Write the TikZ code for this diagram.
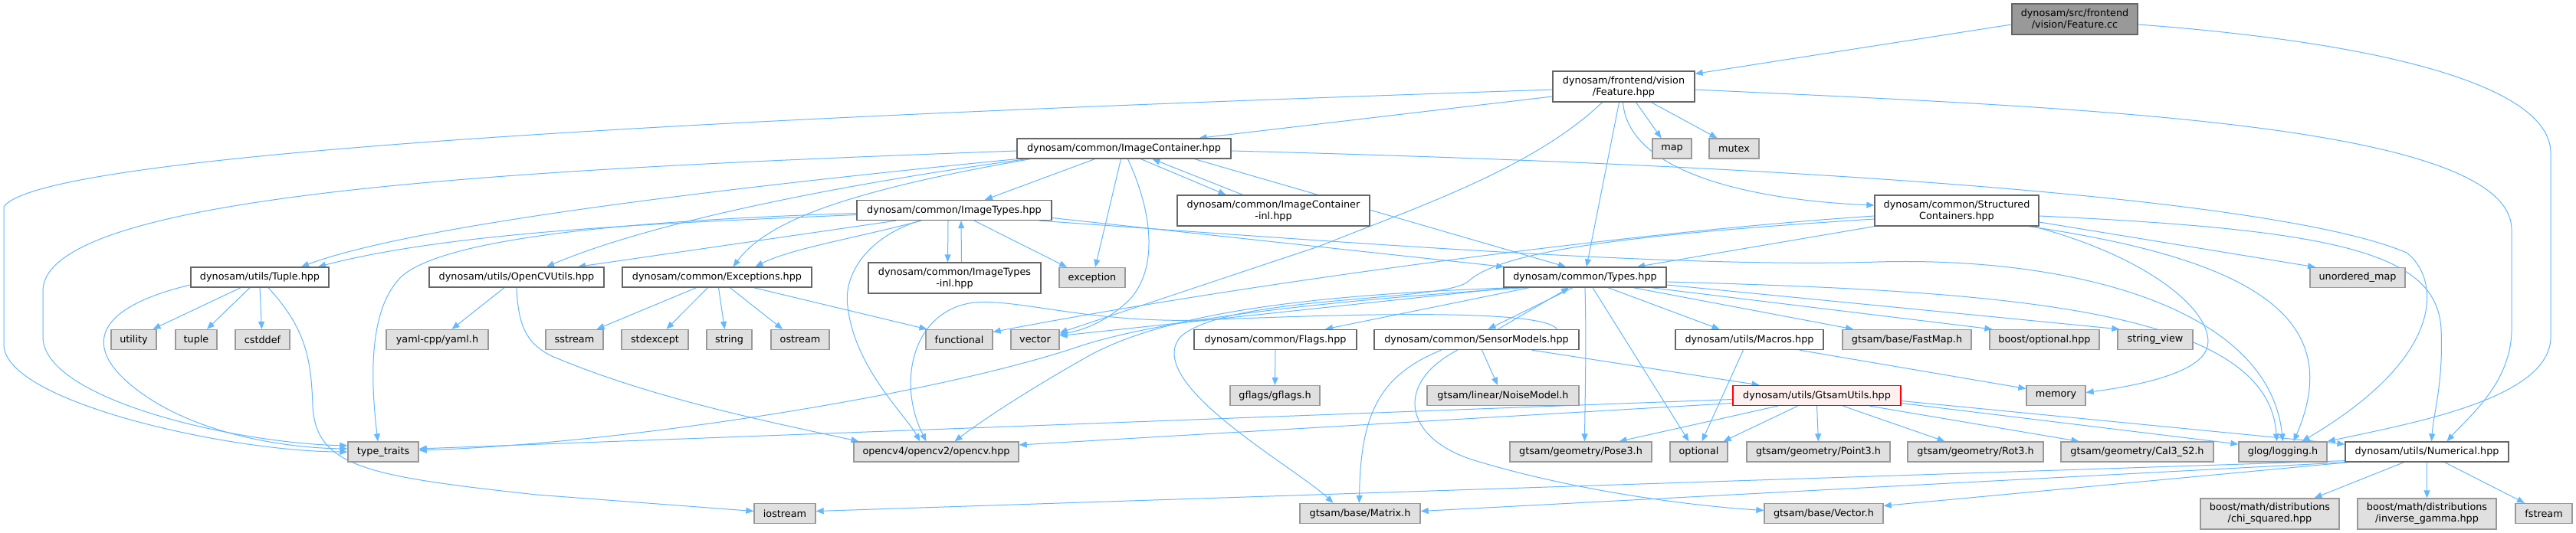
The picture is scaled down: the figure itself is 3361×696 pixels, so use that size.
\documentclass[tikz,border=0pt]{standalone}
\usepackage{fontspec}
\setmainfont{DejaVu Sans}
\usetikzlibrary{arrows.meta}
\pgfdeclarelayer{bg}
\pgfsetlayers{bg,main}
\definecolor{edgec}{HTML}{63B8FF}
\definecolor{docb}{HTML}{666666}
\definecolor{extb}{HTML}{999999}
\definecolor{extf}{HTML}{E0E0E0}
\definecolor{curf}{HTML}{999999}
\definecolor{trb}{HTML}{FF0000}
\definecolor{trf}{HTML}{FFF0F0}
\tikzset{
 nd/.style={draw=docb, fill=white, line width=1.3bp, inner sep=0pt, align=center, font=\fontsize{12.8bp}{15bp}\selectfont, minimum height=26bp},
 ext/.style={nd, draw=extb, fill=extf},
 cur/.style={nd, draw=docb, fill=curf},
 trunc/.style={nd, draw=trb, fill=trf},
 two/.style={minimum height=40bp},
 edge/.style={draw=edgec, line width=1bp, -{Triangle[length=10bp,width=8bp]}},
}
\begin{document}
\begin{tikzpicture}[x=1bp,y=-1bp]
\useasboundingbox (0,0) rectangle (3361,696);
% nodes
\node[cur,two,minimum width=164bp] (fcc) at (2707,25) {dynosam/src/frontend\\/vision/Feature.cc};
\node[nd,two,minimum width=185bp] (fh) at (2118.5,113) {dynosam/frontend/vision\\/Feature.hpp};
\node[ext,minimum width=51bp] (map) at (2181.5,194) {map};
\node[ext,minimum width=65bp] (mutex) at (2262.5,194) {mutex};
\node[nd,minimum width=279bp] (ic) at (1466.5,194) {dynosam/common/ImageContainer.hpp};
\node[nd,two,minimum width=251bp] (icinl) at (1661.5,275) {dynosam/common/ImageContainer\\-inl.hpp};
\node[nd,two,minimum width=214bp] (sc) at (2553,275) {dynosam/common/Structured\\Containers.hpp};
\node[nd,minimum width=254bp] (it) at (1245,274.5) {dynosam/common/ImageTypes.hpp};
\node[ext,minimum width=124bp] (umap) at (3076,362.5) {unordered\_map};
\node[nd,minimum width=180bp] (tuple) at (339,362) {dynosam/utils/Tuple.hpp};
\node[nd,minimum width=228bp] (ocv) at (674,362) {dynosam/utils/OpenCVUtils.hpp};
\node[nd,minimum width=247bp] (exc) at (935.5,362) {dynosam/common/Exceptions.hpp};
\node[nd,two,minimum width=225bp] (itinl) at (1245.5,363) {dynosam/common/ImageTypes\\-inl.hpp};
\node[ext,minimum width=86bp] (exception) at (1425,362.5) {exception};
\node[nd,minimum width=212bp] (ty) at (2068,362) {dynosam/common/Types.hpp};
% row 443.5
\node[ext,minimum width=59bp] (utility) at (174.5,443.5) {utility};
\node[ext,minimum width=54bp] (tuplestd) at (256,443.5) {tuple};
\node[ext,minimum width=71bp] (cstddef) at (342.5,443.5) {cstddef};
\node[ext,minimum width=133bp] (yaml) at (570.5,443.5) {yaml-cpp/yaml.h};
\node[ext,minimum width=75bp] (sstream) at (749.5,443.5) {sstream};
\node[ext,minimum width=87bp] (stdexcept) at (854.5,443.5) {stdexcept};
\node[ext,minimum width=59bp] (string) at (951.5,443.5) {string};
\node[ext,minimum width=76bp] (ostream) at (1044,443.5) {ostream};
\node[ext,minimum width=87bp] (functional) at (1251.5,443.5) {functional};
\node[ext,minimum width=63bp] (vector) at (1350.5,443.5) {vector};
\node[nd,minimum width=212bp] (flags) at (1664,443.5) {dynosam/common/Flags.hpp};
\node[nd,minimum width=267bp] (sm) at (1926.5,443.5) {dynosam/common/SensorModels.hpp};
\node[nd,minimum width=193bp] (macros) at (2282.5,443.5) {dynosam/utils/Macros.hpp};
\node[ext,minimum width=168bp] (fastmap) at (2488,443.5) {gtsam/base/FastMap.h};
\node[ext,minimum width=143bp] (bopt) at (2667.5,443.5) {boost/optional.hpp};
\node[ext,minimum width=98bp] (sv) at (2812,443.5) {string\_view};
% row 516.5
\node[ext,minimum width=117bp] (gflags) at (1663.5,516.5) {gflags/gflags.h};
\node[ext,minimum width=198bp] (noise) at (1961,516.5) {gtsam/linear/NoiseModel.h};
\node[trunc,minimum width=219bp] (gu) at (2370.5,516.5) {dynosam/utils/GtsamUtils.hpp};
\node[ext,minimum width=77bp] (memory) at (2682.5,516.5) {memory};
% row 590
\node[ext,minimum width=92bp] (tt) at (500,590) {type\_traits};
\node[ext,minimum width=215bp] (opencv) at (1221.5,590) {opencv4/opencv2/opencv.hpp};
\node[ext,minimum width=185bp] (pose3) at (2062.5,590) {gtsam/geometry/Pose3.h};
\node[ext,minimum width=75bp] (optional) at (2216.5,590) {optional};
\node[ext,minimum width=187bp] (point3) at (2372.5,590) {gtsam/geometry/Point3.h};
\node[ext,minimum width=177bp] (rot3) at (2577.5,590) {gtsam/geometry/Rot3.h};
\node[ext,minimum width=199bp] (cal3) at (2788.5,590) {gtsam/geometry/Cal3\_S2.h};
\node[ext,minimum width=115bp] (glog) at (2978.5,590) {glog/logging.h};
\node[nd,minimum width=213bp] (nu) at (3166.5,590) {dynosam/utils/Numerical.hpp};
% row 670.5
\node[ext,minimum width=80bp] (iostream) at (1024,670.5) {iostream};
\node[ext,minimum width=157bp] (matrix) at (1774.5,670.5) {gtsam/base/Matrix.h};
\node[ext,minimum width=155bp] (vecth) at (2379.5,670.5) {gtsam/base/Vector.h};
\node[ext,two,minimum width=181bp] (chi) at (2961.5,671) {boost/math/distributions\\/chi\_squared.hpp};
\node[ext,two,minimum width=181bp] (invg) at (3166.5,671) {boost/math/distributions\\/inverse\_gamma.hpp};
\node[ext,minimum width=74bp] (fstream) at (3319,670.5) {fstream};

\begin{pgfonlayer}{bg}
\fill[white] (0,0) rectangle (3361,696);
% Feature.cc
\draw[edge] ([yshift=-7bp]fcc.west) -- ([yshift=-4bp]fh.north east);
\draw[edge] ([yshift=-7bp]fcc.east) .. controls (3100,55) and (3328,110) .. (3328,200) -- (3328,440) .. controls (3328,520) and (3150,552) .. (glog.north east);
% Feature.hpp
\draw[edge] ([yshift=-13bp]fh.west) -- ([xshift=98bp]ic.north);
\draw[edge] ([yshift=-4bp]fh.west) .. controls (1200,145) and (60,190) .. (5,270) -- (5,450) .. controls (5,525) and (300,590) .. (tt.west);
\draw[edge] ([xshift=-28bp]fh.south) .. controls (2000,220) and (1850,270) .. (1720,322) -- ([yshift=9bp]vector.east);
\draw[edge] ([xshift=-6bp]fh.south) -- ([xshift=2bp]ty.north);
\draw[edge] ([xshift=-1bp]fh.south) .. controls (2125,230) and (2300,262) .. ([yshift=7bp]sc.west);
\draw[edge] ([xshift=16bp]fh.south) -- ([xshift=-14bp]map.north);
\draw[edge] ([xshift=36bp]fh.south) -- ([xshift=-22bp]mutex.north);
\draw[edge] ([yshift=-4bp]fh.east) .. controls (2700,140) and (3277,160) .. (3277,300) -- (3277,430) .. controls (3277,500) and (3220,545) .. ([xshift=26bp]nu.north);
% ImageContainer
\draw[edge] ([yshift=-3bp]ic.west) .. controls (700,220) and (56,250) .. (56,380) -- (56,440) .. controls (56,520) and (300,578) .. ([yshift=8bp]tt.west);
\draw[edge] (ic.south west) .. controls (1000,240) and (550,290) .. ([xshift=54bp]tuple.north);
\draw[edge] ([xshift=13bp]ic.south west) .. controls (1100,240) and (850,290) .. ([xshift=39bp]ocv.north);
\draw[edge] ([xshift=18bp]ic.south west) .. controls (1100,250) and (1000,290) .. ([xshift=21bp]exc.north);
\draw[edge] ([xshift=-38bp]ic.south) -- ([xshift=40bp]it.north);
\draw[edge] ([xshift=-4bp]ic.south) -- ([xshift=4bp]exception.north);
\draw[edge] ([xshift=5bp]ic.south) .. controls (1505,280) and (1510,350) .. (1475,390) .. controls (1450,415) and (1420,430) .. ([yshift=7bp]vector.east);
\draw[edge] ([xshift=22bp]ic.south) -- ([xshift=-62bp]icinl.north);
\draw[edge] ([xshift=-40bp]icinl.north) -- ([xshift=37bp]ic.south);
\draw[edge] ([xshift=92bp]ic.south) -- ([xshift=-25bp]ty.north);
\draw[edge] ([yshift=-3bp]ic.east) .. controls (2500,220) and (3000,270) .. (3140,330) .. controls (3180,360) and (3200,460) .. ([xshift=25bp]glog.north);
% ImageTypes
\draw[edge] ([yshift=-6bp]it.west) .. controls (900,290) and (600,300) .. ([xshift=76bp]tuple.north);
\draw[edge] ([yshift=-4bp]it.west) .. controls (750,290) and (560,320) .. (520,365) .. controls (480,410) and (484,500) .. ([xshift=-7bp]tt.north);
\draw[edge] ([xshift=-76bp]it.south) -- ([xshift=80bp]ocv.north);
\draw[edge] ([xshift=-43bp]it.south) .. controls (1120,310) and (1030,325) .. ([xshift=50bp]exc.north);
\draw[edge] ([xshift=-45bp]it.south) .. controls (1130,310) and (1100,360) .. (1106,400) .. controls (1115,480) and (1180,540) .. ([xshift=-21bp]opencv.north);
\draw[edge] ([xshift=-8bp]it.south) -- ([xshift=-9bp]itinl.north);
\draw[edge] ([xshift=9bp]itinl.north) -- ([xshift=9bp]it.south);
\draw[edge] ([xshift=26bp]it.south) -- ([xshift=-33bp]exception.north);
\draw[edge] ([yshift=-10bp]it.east) -- ([xshift=1bp]ty.north west);
\draw[edge] ([xshift=111bp]it.south) .. controls (1800,320) and (2200,350) .. (2450,342) .. controls (2700,335) and (2960,400) .. (glog.north);
% Tuple
\draw[edge] ([xshift=-25bp]tuple.south) -- ([xshift=25bp]utility.north);
\draw[edge] ([xshift=-13bp]tuple.south) -- ([xshift=14bp]tuplestd.north);
\draw[edge] (tuple.south) -- ([xshift=-1bp]cstddef.north);
\draw[edge] ([yshift=-10bp]tuple.west) .. controls (130,400) and (100,450) .. (180,510) .. controls (260,570) and (380,585) .. ([yshift=4bp]tt.west);
\draw[edge] ([xshift=11bp]tuple.south) .. controls (400,430) and (406,470) .. (408,530) .. controls (412,610) and (480,622) .. (700,646) -- ([yshift=3bp]iostream.west);
% OpenCVUtils
\draw[edge] ([xshift=-16bp]ocv.south) -- ([xshift=19bp]yaml.north);
\draw[edge] (ocv.south) .. controls (676,430) and (690,450) .. (720,465) .. controls (850,520) and (1000,550) .. ([xshift=-101bp]opencv.north);
% Exceptions
\draw[edge] ([xshift=-27bp]exc.south) -- ([xshift=29bp]sstream.north);
\draw[edge] ([xshift=-12bp]exc.south) -- ([xshift=15bp]stdexcept.north);
\draw[edge] ([xshift=2bp]exc.south) -- ([xshift=-6bp]string.north);
\draw[edge] ([xshift=17bp]exc.south) -- ([xshift=-23bp]ostream.north);
\draw[edge] ([xshift=48bp]exc.south) -- ([xshift=-42bp]functional.north);
% Types
\draw[edge] ([xshift=10bp]ty.south west) -- ([yshift=5bp]vector.east);
\draw[edge] ([xshift=28bp]ty.south west) .. controls (1700,395) and (1500,420) .. (1400,455) .. controls (1200,520) and (800,580) .. ([yshift=2bp]tt.east);
\draw[edge] ([xshift=14bp]ty.south west) .. controls (1700,385) and (1520,410) .. (1420,465) .. controls (1340,510) and (1280,550) .. ([xshift=24bp]opencv.north);
\draw[edge] ([xshift=34bp]ty.south west) -- ([xshift=65bp]flags.north);
\draw[edge] ([xshift=-16bp]ty.south) -- ([xshift=15bp]sm.north);
\draw[edge] ([xshift=28bp]sm.north) -- ([xshift=-21bp]ty.south);
\draw[edge] (ty.south) .. controls (2070,450) and (2068,520) .. ([xshift=5bp]pose3.north);
\draw[edge] ([xshift=10bp]ty.south) -- ([xshift=-13bp]optional.north);
\draw[edge] ([xshift=30bp]ty.south) -- ([xshift=-39bp]macros.north);
\draw[edge] ([xshift=63bp]ty.south) -- ([xshift=-70bp]fastmap.north);
\draw[edge] ([xshift=86bp]ty.south) -- ([xshift=4bp]bopt.north west);
\draw[edge] ([yshift=-10bp]ty.east) -- ([xshift=3bp]sv.north west);
\draw[edge] ([yshift=-6bp]ty.east) .. controls (2600,380) and (2960,400) .. ([xshift=-8bp]glog.north);
% SensorModels
\draw[edge] ([xshift=7bp]sm.south) -- ([xshift=-7bp]noise.north);
\draw[edge] ([xshift=-46bp]sm.south) .. controls (1800,490) and (1775,540) .. ([xshift=-1bp]matrix.north);
\draw[edge] ([xshift=-25bp]sm.south) .. controls (1820,500) and (1830,570) .. (1920,600) .. controls (2050,640) and (2200,660) .. ([yshift=4bp]vecth.west);
\draw[edge] ([xshift=72bp]sm.south) -- ([xshift=-75bp]gu.north);
\draw[edge] ([xshift=105bp]sm.north) .. controls (2015,405) and (1800,408) .. (1568,418) .. controls (1420,422) and (1330,390) .. (1271,395) .. controls (1190,405) and (1170,500) .. ([xshift=-13bp]opencv.north);
% Flags
\draw[edge] (flags.south) -- (gflags.north);
% Macros
\draw[edge] ([xshift=-8bp]macros.south) -- ([xshift=4bp]optional.north);
\draw[edge] ([xshift=65bp]macros.south) -- ([yshift=9bp]memory.west);
% GtsamUtils
\draw[edge] ([xshift=-51bp]gu.south) -- ([xshift=50bp]pose3.north);
\draw[edge] ([xshift=-25bp]gu.south) -- ([xshift=32bp]optional.north);
\draw[edge] (gu.south) -- (point3.north);
\draw[edge] ([xshift=34bp]gu.south) -- ([xshift=-40bp]rot3.north);
\draw[edge] ([xshift=69bp]gu.south) -- ([xshift=-76bp]cal3.north);
\draw[edge] ([yshift=-10bp]gu.east) -- ([yshift=10bp]glog.west);
\draw[edge] ([yshift=-7bp]gu.east) -- ([yshift=10bp]nu.west);
\draw[edge] ([yshift=-5bp]gu.west) -- ([yshift=4bp]tt.east);
\draw[edge] ([yshift=-10bp]gu.west) -- ([yshift=9bp]opencv.east);
% StructuredContainers
\draw[edge] (sc.south west) -- ([xshift=68bp]ty.north);
\draw[edge] ([yshift=-7bp]sc.west) .. controls (2100,305) and (1600,375) .. ([yshift=10bp]functional.east);
\draw[edge] ([yshift=-11bp]sc.west) .. controls (2150,305) and (1960,325) .. (1915,368) .. controls (1880,395) and (1600,385) .. (1540,440) .. controls (1490,500) and (1690,610) .. ([xshift=-35bp]matrix.north);
\draw[edge] ([yshift=-15bp]sc.east) -- ([xshift=-55bp]umap.north);
\draw[edge] ([xshift=100bp]sc.south) .. controls (2820,340) and (2900,420) .. (2877,460) .. controls (2860,490) and (2780,505) .. ([yshift=4bp]memory.east);
\draw[edge] ([xshift=94bp]sc.south) .. controls (2950,340) and (3060,420) .. ([xshift=14bp]glog.north);
\draw[edge] ([yshift=-7bp]sc.east) .. controls (3050,300) and (3180,330) .. (3185,430) .. controls (3188,500) and (3175,540) .. ([xshift=6bp]nu.north);
% Numerical
\draw[edge] ([yshift=2bp]nu.south west) -- ([yshift=3bp]iostream.east);
\draw[edge] ([xshift=2bp]nu.south west) -- ([yshift=3bp]matrix.east);
\draw[edge] ([xshift=5bp]nu.south west) -- ([yshift=10bp]vecth.east);
\draw[edge] ([xshift=-30bp]nu.south) -- ([xshift=58bp]chi.north);
\draw[edge] (nu.south) -- (invg.north);
\draw[edge] ([xshift=23bp]nu.south) -- ([xshift=-25bp]fstream.north);
\end{pgfonlayer}
\end{tikzpicture}
\end{document}
